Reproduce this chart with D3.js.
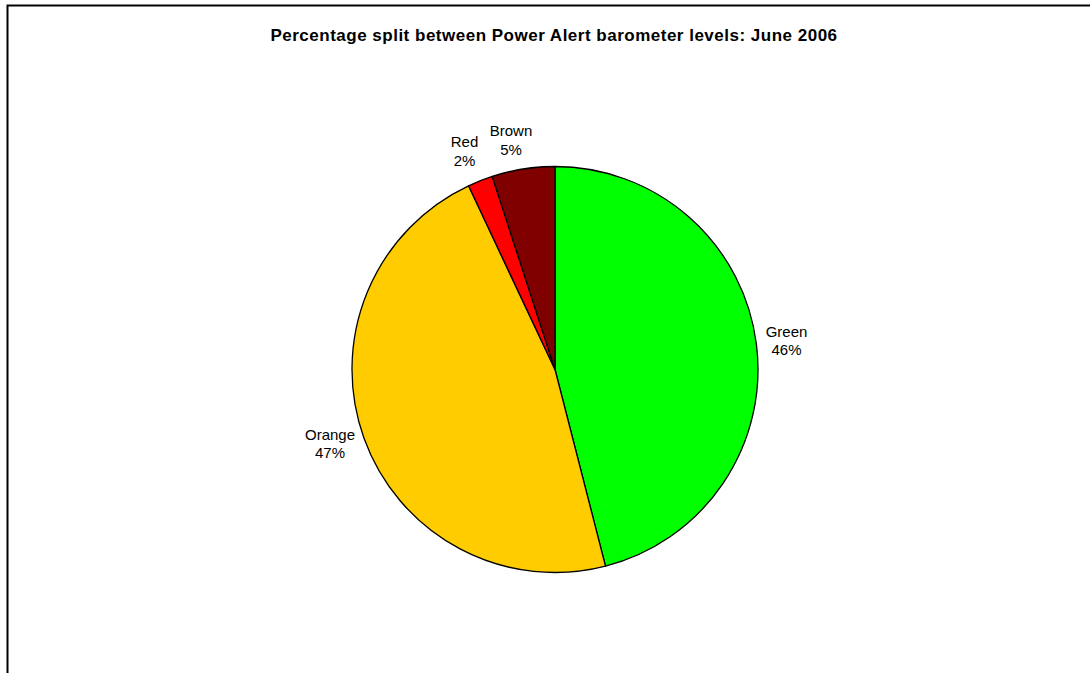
<!DOCTYPE html>
<html>
<head>
<meta charset="utf-8">
<script src="https://cdn.jsdelivr.net/npm/d3@7"></script>
<style>
  html, body { margin: 0; padding: 0; background: #fff; }
  svg { display: block; }
</style>
</head>
<body>
<svg id="chart" width="1090" height="673"></svg>
<script>
// Power Alert barometer levels, June 2006
const categories = ["Green", "Orange", "Red", "Brown"];
const values = [46, 47, 2, 5];
const colors = ["#00ff00", "#ffcc00", "#ff0000", "#800000"];
const title = "Percentage split between Power Alert barometer levels: June 2006";

const svg = d3.select("#chart");
const W = 1090, H = 673;
const FONT = "Liberation Sans, Arial, Helvetica, sans-serif";

// outer frame (top and left edges visible inside the window)
svg.append("rect")
  .attr("x", 7.5).attr("y", 5.5)
  .attr("width", W + 10).attr("height", H + 10)
  .attr("fill", "#fff").attr("stroke", "#000").attr("stroke-width", 2);

svg.append("text")
  .attr("x", 554).attr("y", 40.5)
  .attr("text-anchor", "middle")
  .attr("font-family", FONT)
  .attr("font-size", 17).attr("font-weight", "bold")
  .attr("letter-spacing", "0.5px")
  .text(title);

const cx = 555, cy = 369.5, r = 203;
const data = categories.map((c, i) => ({ name: c, value: values[i], color: colors[i] }));

const pie = d3.pie().sort(null).value(d => d.value);
const arcs = pie(data);
const arc = d3.arc().innerRadius(0).outerRadius(r);

const g = svg.append("g").attr("transform", `translate(${cx},${cy})`);

g.selectAll("path.slice")
  .data(arcs)
  .join("path")
  .attr("class", "slice")
  .attr("d", arc)
  .attr("fill", d => d.data.color)
  .attr("stroke", "#000")
  .attr("stroke-width", 1.3)
  .attr("stroke-linejoin", "round");

// centre of each label block, relative to the pie centre
const labelOffset = {
  Green:  [231.5, -29],
  Orange: [-225, 74],
  Red:    [-90.5, -218.5],
  Brown:  [-44, -229.5]
};
const lineGap = 18.5;

const labels = g.selectAll("text.label")
  .data(arcs)
  .join("text")
  .attr("class", "label")
  .attr("text-anchor", "middle")
  .attr("font-family", FONT)
  .attr("font-size", 15)
  .attr("fill", "#000")
  .attr("transform", d => {
    const [dx, dy] = labelOffset[d.data.name];
    return `translate(${dx},${dy - 3.9})`;
  });

labels.selectAll("tspan")
  .data(d => [d.data.name, d.data.value + "%"])
  .join("tspan")
  .attr("x", 0)
  .attr("y", (t, i) => i * lineGap)
  .text(t => t);
</script>
</body>
</html>
